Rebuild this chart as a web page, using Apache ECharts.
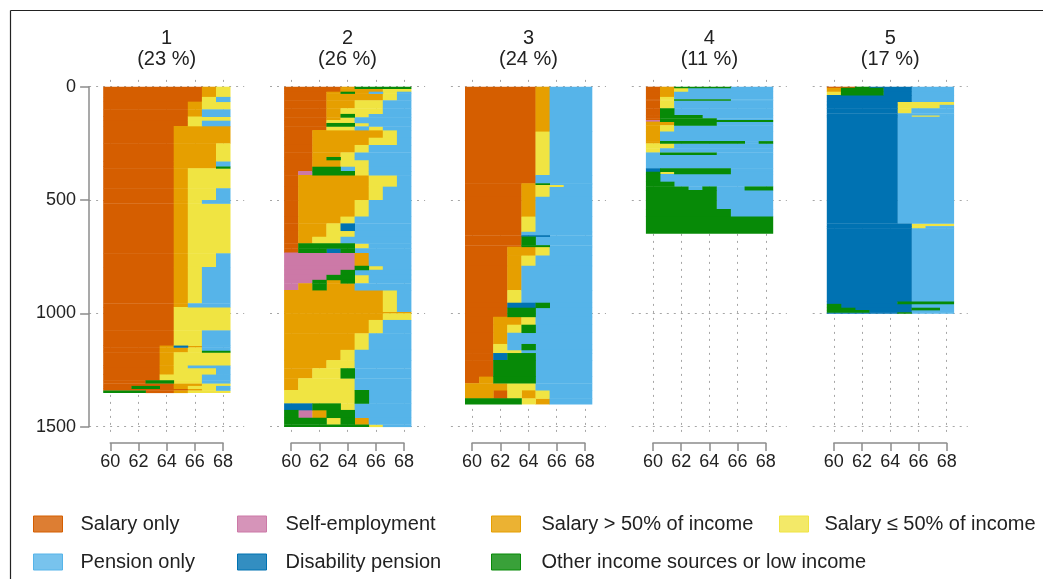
<!DOCTYPE html>
<html>
<head>
<meta charset="utf-8">
<script src="https://cdn.jsdelivr.net/npm/echarts@6/dist/echarts.min.js"></script>
<style>
  html, body { margin: 0; padding: 0; background: #fff; }
  #chart { width: 1043px; height: 579px; }
</style>
</head>
<body>
<div id="chart"></div>
<script>
// Yearly income-source states, ages 60 to 68, one row per individual, grouped by cluster.
const ages = [60, 61, 62, 63, 64, 65, 66, 67, 68];
const stateCodes = ['S', 'E', 'H', 'L', 'P', 'D', 'O'];
const stateLabels = [
  'Salary only',
  'Self-employment',
  'Salary > 50% of income',
  'Salary \u2264 50% of income',
  'Pension only',
  'Disability pension',
  'Other income sources or low income'
];
const stateColors = ['#D55E00', '#CC79A7', '#E69F00', '#F0E442', '#56B4E9', '#0072B2', '#078A07'];
const clusterNames = ['1', '2', '3', '4', '5'];
const clusterShares = [23, 26, 24, 11, 17];
const rowTicks = [0, 500, 1000, 1500];
const ageTicks = [60, 62, 64, 66, 68];

// Each entry: [number of consecutive individuals, state at ages 60..68]
const cluster1 = [
  [45, 'SSSSSSSHL'], [21, 'SSSSSSSLP'], [34, 'SSSSSSHLL'], [32, 'SSSSSSHPP'],
  [18, 'SSSSSSLLL'], [23, 'SSSSSSLPP'], [77, 'SSSSSHHHH'], [80, 'SSSSSHHHL'],
  [22, 'SSSSSHHHP'], [8, 'SSSSSHHHO'], [88, 'SSSSSHLLL'], [52, 'SSSSSHLLP'],
  [15, 'SSSSSHLPP'], [220, 'SSSSSHLLL'], [60, 'SSSSSHLLP'], [160, 'SSSSSHLPP'],
  [17, 'SSSSSHPPP'], [103, 'SSSSSLLLL'], [67, 'SSSSSLLPP'], [8, 'SSSSHDHPP'],
  [15, 'SSSSHHLPP'], [7, 'SSSSHHLOO'], [58, 'SSSSHLLLL'], [10, 'SSSSHLPPP'],
  [30, 'SSSSHLLLP'], [25, 'SSSSLLLPP'], [13, 'SSSOOLLPP'], [12, 'SSSSSHHLL'],
  [12, 'SSOOSHLLP'], [8, 'SSSSSSHLP'], [10, 'OOOSSHLLL']
];
const cluster2 = [
  [8, 'SSSSHOOOO'], [14, 'SSSSHHHLL'], [8, 'SSSHOHPLP'], [30, 'SSSHHHHLP'],
  [35, 'SSSHHLLPP'], [25, 'SSSHLLLPP'], [15, 'SSSHOLPPP'], [12, 'SSSHLPPPP'],
  [13, 'SSSLLPPPP'], [15, 'SSSOOLPPP'], [16, 'SSSLLPLPP'], [34, 'SSHHHHHLP'],
  [32, 'SSHHHHLLP'], [33, 'SSHHHLPPP'], [20, 'SSHHLPPPP'], [13, 'SSHOLPPPP'],
  [30, 'SSHHLLPPP'], [19, 'SSOOPLPPP'], [18, 'SEOOOLPPP'], [51, 'SHHHHHLLP'],
  [59, 'SHHHHHLPP'], [73, 'SHHHHLPPP'], [30, 'SHHHLPPPP'], [32, 'SHHLDPPPP'],
  [27, 'SHHLLPPPP'], [29, 'SHLLPPPPP'], [22, 'SOOOOLPPP'], [19, 'SOODOPPPP'],
  [58, 'EEEEEHPPP'], [18, 'EEEEEOLPP'], [22, 'EEEEOPPPP'], [22, 'EEEOOLPPP'],
  [15, 'EEOHOLPPP'], [30, 'EHOHHPPPP'], [95, 'HHHHHHHLP'], [8, 'HHHHHHHHH'],
  [29, 'HHHHHHHLL'], [59, 'HHHHHHLPP'], [73, 'HHHHHLPPP'], [45, 'HHHHLPPPP'],
  [36, 'HHHLLPPPP'], [44, 'HHLLOPPPP'], [52, 'HLLLLPPPP'], [59, 'LLLLLOPPP'],
  [29, 'DDOOLPPPP'], [34, 'OEHOOPPPP'], [30, 'OOOLOHPPP'], [10, 'OOOOOOLPP']
];
const cluster3 = [
  [198, 'SSSSSHPPP'], [192, 'SSSSSLPPP'], [36, 'SSSSSPPPP'], [6, 'SSSSHOPPP'],
  [10, 'SSSSHLLPP'], [43, 'SSSSHLPPP'], [88, 'SSSSHPPPP'], [67, 'SSSSLPPPP'],
  [15, 'SSSSPPPPP'], [6, 'SSSSDDPPP'], [38, 'SSSSOPPPP'], [7, 'SSSSOOPPP'],
  [39, 'SSSHHLPPP'], [45, 'SSSHLPPPP'], [107, 'SSSHPPPPP'], [56, 'SSSLPPPPP'],
  [22, 'SSSDDOPPP'], [40, 'SSSOOPPPP'], [35, 'SSHHLPPPP'], [35, 'SSHLOPPPP'],
  [50, 'SSHPPPPPP'], [26, 'SSLPOPPPP'], [14, 'SSLLPPPPP'], [31, 'SSDOOPPPP'],
  [73, 'SSOOOPPPP'], [29, 'SHOOOPPPP'], [30, 'HHHLLPPPP'], [37, 'HHSLHLPPP'],
  [25, 'OOOOLHPPP']
];
const cluster4 = [
  [5, 'SHOOOOPPP'], [17, 'SHLPPPPPP'], [23, 'SHPPPPPPP'], [10, 'SLPPPPPPP'],
  [5, 'SLOOOOPPP'], [35, 'SLPPPPPPP'], [30, 'SOPPPPPPP'], [14, 'SOOOPPPPP'],
  [8, 'SOOOOPPPP'], [7, 'EOOOOOOOO'], [16, 'HHOOOPPPP'], [28, 'HLPPPPPPP'],
  [42, 'HPPPPPPPP'], [10, 'HOOOOOOPO'], [22, 'LLPPPPPPP'], [18, 'LPPPPPPPP'],
  [10, 'POOOOPPPP'], [60, 'PPPPPPPPP'], [15, 'DOOOOOPPP'], [10, 'OLOOOOPPP'],
  [34, 'OPPPPPPPP'], [21, 'OOPPPPPPP'], [16, 'OOOPOPPOO'], [84, 'OOOOOPPPP'],
  [33, 'OOOOOOPPP'], [74, 'OOOOOOOOO']
];
const cluster5 = [
  [5, 'SSODDDPPP'], [17, 'HOOODDPPP'], [15, 'LOOODDPPP'], [29, 'DDDDDDPPP'],
  [14, 'DDDDDLLLL'], [15, 'DDDDDLLLP'], [22, 'DDDDDLPPP'], [8, 'DDDDDPPPP'],
  [8, 'DDDDDPLLP'], [470, 'DDDDDPPPP'], [12, 'DDDDDDLLL'], [10, 'DDDDDDLPP'],
  [323, 'DDDDDDPPP'], [10, 'DDDDDOOOO'], [17, 'ODDDDDPPP'], [10, 'OODDDDOOP'],
  [10, 'OOODDDPPP'], [5, 'DDDDDOPPP']
];
const clusters = [cluster1, cluster2, cluster3, cluster4, cluster5];

// ---- layout ----
const FONT = '"Liberation Sans", Arial, Helvetica, sans-serif';
const panelLeft0 = 103.2, panelStep = 180.9, yearPx = 14.1;
const plotTop = 79.9, plotHeight = 357;      // rows -30 .. 1545
const rowMin = -30, rowMax = 1545;
const axisGray = '#8c8c8c';
const dotLine = { type: [2, 5], color: '#a6a6a6', width: 1 };

// Turn runs of equal states into cells [ageFrom, ageTo, rowFrom, rowTo], one list per state.
function buildCells(groups) {
  const cells = stateCodes.map(() => []);
  let row = 0;
  groups.forEach(([count, seq]) => {
    let k = 0;
    while (k < seq.length) {
      let j = k;
      while (j + 1 < seq.length && seq[j + 1] === seq[k]) j++;
      const s = stateCodes.indexOf(seq[k]);
      cells[s].push([ages[k] - 0.5, ages[j] + 0.5, row, row + count]);
      k = j + 1;
    }
    row += count;
  });
  return cells;
}

function renderCell(params, api) {
  const a = api.coord([api.value(0), api.value(2)]);
  const b = api.coord([api.value(1), api.value(3)]);
  const y0 = Math.min(a[1], b[1]);
  const y1 = Math.max(a[1], b[1]);
  return {
    type: 'rect',
    shape: { x: a[0], y: y0, width: b[0] - a[0] + 0.4, height: y1 - y0 + 0.4 },
    style: { fill: api.visual('color') }
  };
}

const grids = [], xAxes = [], yAxes = [], series = [], graphics = [];

clusters.forEach((groups, i) => {
  const pLeft = panelLeft0 + panelStep * i;
  const dataLeft = pLeft - yearPx;
  const dataWidth = yearPx * 11;
  const base = grids.length;

  // data area
  grids.push({ left: dataLeft, top: plotTop, width: dataWidth, height: plotHeight, outerBoundsMode: 'none' });
  xAxes.push({ gridIndex: base, type: 'value', min: 58.5, max: 69.5, show: false });
  yAxes.push({ gridIndex: base, type: 'value', min: rowMin, max: rowMax, inverse: true, show: false });

  // age axis bracket and vertical dotted guides
  grids.push({ left: pLeft + yearPx / 2, top: plotTop, width: yearPx * 8, height: plotHeight, outerBoundsMode: 'none' });
  xAxes.push({
    gridIndex: base + 1, type: 'value', min: ageTicks[0], max: ageTicks[ageTicks.length - 1], interval: 2,
    position: 'bottom', offset: 6,
    axisLine: { show: true, onZero: false, lineStyle: { color: axisGray, width: 1.5 } },
    axisTick: { show: true, length: 8, lineStyle: { color: axisGray, width: 1.5 } },
    axisLabel: { show: true, margin: 10, fontSize: 18, color: '#222', fontFamily: FONT },
    splitLine: { show: true, lineStyle: dotLine }
  });
  yAxes.push({ gridIndex: base + 1, type: 'value', min: 0, max: 1, show: false });

  // row axis and horizontal dotted guides
  grids.push({ left: dataLeft, top: plotTop - rowMin * plotHeight / (rowMax - rowMin), width: dataWidth,
               height: 1500 * plotHeight / (rowMax - rowMin), outerBoundsMode: 'none' });
  xAxes.push({ gridIndex: base + 2, type: 'value', min: 58.5, max: 69.5, show: false });
  const firstPanel = i === 0;
  yAxes.push({
    gridIndex: base + 2, type: 'value', min: rowTicks[0], max: rowTicks[rowTicks.length - 1], interval: 500,
    inverse: true, position: 'left',
    axisLine: { show: firstPanel, onZero: false, lineStyle: { color: axisGray, width: 1.5 } },
    axisTick: { show: firstPanel, length: 9, lineStyle: { color: axisGray, width: 1.5 } },
    axisLabel: { show: firstPanel, margin: 13, fontSize: 18, color: '#222', fontFamily: FONT,
                 formatter: v => String(v) },
    splitLine: { show: true, lineStyle: dotLine }
  });

  const cells = buildCells(groups);
  cells.forEach((list, s) => {
    series.push({
      type: 'custom',
      name: stateLabels[s],
      xAxisIndex: base,
      yAxisIndex: base,
      renderItem: renderCell,
      itemStyle: { color: stateColors[s] },
      encode: { x: [0, 1], y: [2, 3] },
      data: list,
      silent: true,
      z: 3
    });
  });

  const cx = pLeft + yearPx * 4.5;
  graphics.push({
    type: 'text', x: cx, y: 38,
    style: { text: clusterNames[i], align: 'center', verticalAlign: 'middle', font: '20px ' + FONT, fill: '#222' }
  });
  graphics.push({
    type: 'text', x: cx, y: 59.5,
    style: { text: '(' + clusterShares[i] + ' %)', align: 'center', verticalAlign: 'middle', font: '20px ' + FONT, fill: '#222' }
  });
});

// frame
graphics.push({ type: 'line', shape: { x1: 10.5, y1: 10.5, x2: 1043, y2: 10.5 }, style: { stroke: '#222', lineWidth: 1.2 } });
graphics.push({ type: 'line', shape: { x1: 10.5, y1: 10.5, x2: 10.5, y2: 579 }, style: { stroke: '#222', lineWidth: 1.2 } });

// legend: two rows, four columns
const legendSlots = [
  { s: 0, left: 33, top: 514, gap: 18 },
  { s: 1, left: 237, top: 514, gap: 19 },
  { s: 2, left: 491, top: 514, gap: 21 },
  { s: 3, left: 779, top: 514, gap: 16 },
  { s: 4, left: 33, top: 552, gap: 18 },
  { s: 5, left: 237, top: 552, gap: 19 },
  { s: 6, left: 491, top: 552, gap: 21 }
];
function fade(hex) {
  const n = parseInt(hex.slice(1), 16);
  return 'rgba(' + (n >> 16) + ',' + ((n >> 8) & 255) + ',' + (n & 255) + ',0.8)';
}
const legends = legendSlots.map(slot => ({
  left: slot.left, top: slot.top, padding: 0, orient: 'horizontal',
  selectedMode: false, icon: 'rect', itemWidth: 29, itemHeight: 16,
  textStyle: { fontSize: 20, lineHeight: 20, color: '#222', fontFamily: FONT, padding: [0, 0, 0, slot.gap - 5] },
  data: [{
    name: stateLabels[slot.s],
    itemStyle: { color: fade(stateColors[slot.s]), borderColor: stateColors[slot.s], borderWidth: 1 }
  }]
}));

const chart = echarts.init(document.getElementById('chart'), null, { renderer: 'canvas' });
chart.setOption({
  animation: false,
  backgroundColor: '#fff',
  grid: grids,
  xAxis: xAxes,
  yAxis: yAxes,
  legend: legends,
  series: series,
  graphic: graphics
});
</script>
</body>
</html>
